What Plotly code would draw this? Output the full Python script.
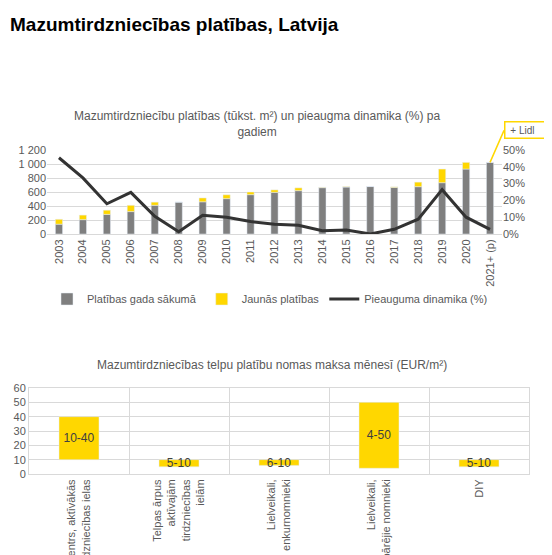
import plotly.graph_objects as go

# ---- Data: top chart ----
years = ["2003", "2004", "2005", "2006", "2007", "2008", "2009", "2010", "2011", "2012",
         "2013", "2014", "2015", "2016", "2017", "2018", "2019", "2020", "2021+ (p)"]
existing_area = [140, 205, 280, 320, 410, 455, 460, 505, 562, 595,
                 619, 662, 671, 678, 665, 676, 733, 928, 1023]
new_area = [70, 65, 60, 90, 45, 0, 55, 55, 38, 35,
            40, 5, 5, 0, 8, 65, 195, 95, 0]
growth_pct = [45.4, 33.4, 18.0, 24.8, 10.5, 1.4, 11.2, 10.0, 7.4, 5.8,
              5.2, 2.0, 2.4, 0.0, 2.8, 8.8, 26.4, 10.0, 2.8]
left_ticks = [0, 200, 400, 600, 800, 1000, 1200]
left_ticktext = ["0", "200", "400", "600", "800", "1 000", "1 200"]
right_ticks = [0, 10, 20, 30, 40, 50]
right_ticktext = ["0%", "10%", "20%", "30%", "40%", "50%"]

# ---- Data: bottom chart ----
rent_cats = ["Centrs, aktīvākās<br>tirdzniecības ielas",
             "Telpas ārpus<br>aktīvajām<br>tirdzniecības<br>ielām",
             "Lielveikali,<br>enkurnomnieki",
             "Lielveikali,<br>pārējie nomnieki",
             "DIY"]
rent_low = [10, 5, 6, 4, 5]
rent_high = [40, 10, 10, 50, 10]
rent_labels = [f"{l}-{h}" for l, h in zip(rent_low, rent_high)]
rent_ticks = [0, 10, 20, 30, 40, 50, 60]

FONT = "Liberation Sans, Arial, sans-serif"
GRAY_TXT = "#595959"
GRID = "#D9D9D9"
YELLOW = "#FFD700"

# page has an 8px body margin; the figure is sized to fit the 552x555 window
OFF = 8
W, H = 552 - OFF, 555 - OFF

def px_x(x):
    return (x - OFF) / W

def py(y):
    return 1 - (y - OFF) / H

fig = go.Figure()

fig.add_trace(go.Bar(x=years, y=existing_area, name="Platības gada sākumā",
                     marker_color="#7F7F7F", width=0.3,
                     xaxis="x", yaxis="y"))
fig.add_trace(go.Bar(x=years, y=new_area, base=existing_area, name="Jaunās platības",
                     marker_color=YELLOW, width=0.3,
                     xaxis="x", yaxis="y"))
fig.add_trace(go.Scatter(x=years, y=growth_pct, name="Pieauguma dinamika (%)",
                         mode="lines", line=dict(color="#333333", width=3),
                         xaxis="x", yaxis="y2"))

rent_height = [h - l for l, h in zip(rent_low, rent_high)]
fig.add_trace(go.Bar(x=rent_cats, y=rent_height, base=rent_low,
                     marker_color=YELLOW, width=0.4, showlegend=False,
                     text=rent_labels, textposition="inside",
                     insidetextanchor="middle", constraintext="none",
                     textfont=dict(color="#404040", size=12, family=FONT),
                     xaxis="x3", yaxis="y3"))

fig.update_layout(
    width=W, height=H,
    margin=dict(l=0, r=0, t=0, b=0, autoexpand=False),
    paper_bgcolor="white", plot_bgcolor="white",
    barmode="overlay",
    font=dict(family=FONT, color=GRAY_TXT, size=11),
    showlegend=True,
    legend=dict(orientation="h", x=px_x(270), xanchor="center", y=py(299), yanchor="middle",
                font=dict(size=11, color=GRAY_TXT), itemwidth=30,
                traceorder="normal", bgcolor="rgba(0,0,0,0)"),
    xaxis=dict(domain=[px_x(47), px_x(502)], anchor="y", type="category",
               range=[-0.5, len(years) - 0.5],
               tickangle=-90, showgrid=False, showline=True, linecolor=GRID,
               ticks="", automargin=False, tickfont=dict(size=11, color=GRAY_TXT)),
    yaxis=dict(domain=[py(234), py(150)], anchor="x", range=[0, 1200],
               tickvals=left_ticks, ticktext=left_ticktext, automargin=False,
               showgrid=True, gridcolor=GRID, zeroline=False,
               tickfont=dict(size=11, color=GRAY_TXT)),
    yaxis2=dict(overlaying="y", side="right", anchor="x", range=[0, 50],
                tickvals=right_ticks, ticktext=right_ticktext, automargin=False,
                showgrid=False, zeroline=False,
                tickfont=dict(size=11, color=GRAY_TXT)),
    xaxis3=dict(domain=[px_x(29), px_x(529)], anchor="y3", type="category",
                tickson="boundaries", showgrid=True, gridcolor=GRID,
                showline=True, mirror=True, linecolor=GRID, ticks="",
                automargin=False, tickangle=-90,
                tickfont=dict(size=11, color=GRAY_TXT)),
    yaxis3=dict(domain=[py(474), py(388)], anchor="x3", range=[0, 60],
                tickvals=rent_ticks, showgrid=True, gridcolor=GRID, zeroline=False,
                showline=True, mirror=True, linecolor=GRID, automargin=False,
                tickfont=dict(size=11, color=GRAY_TXT)),
    annotations=[
        dict(text="<b>Mazumtirdzniecības platības, Latvija</b>", xref="paper", yref="paper",
             x=0, y=py(25), xanchor="left", yanchor="middle", showarrow=False,
             font=dict(size=19, color="#000000", family=FONT)),
        dict(text="Mazumtirdzniecību platības (tūkst. m²) un pieaugma dinamika (%) pa<br>gadiem",
             xref="paper", yref="paper", x=px_x(257), y=py(124), xanchor="center",
             yanchor="middle", showarrow=False,
             font=dict(size=12, color=GRAY_TXT, family=FONT)),
        dict(text="Mazumtirdzniecības telpu platību nomas maksa mēnesī (EUR/m²)",
             xref="paper", yref="paper", x=px_x(272), y=py(365), xanchor="center",
             yanchor="middle", showarrow=False,
             font=dict(size=12, color=GRAY_TXT, family=FONT)),
        dict(text=" + Lidl     ", x=years[-1], y=existing_area[-1] + new_area[-1],
             xref="x", yref="y", showarrow=True, arrowhead=0, arrowwidth=1.5,
             arrowcolor=YELLOW, ax=14, ay=-32, bordercolor=YELLOW, borderwidth=1.5,
             borderpad=2, bgcolor="white", xanchor="left", yanchor="middle",
             font=dict(size=10, color=GRAY_TXT, family=FONT)),
    ],
)

fig.write_html("out.html")
